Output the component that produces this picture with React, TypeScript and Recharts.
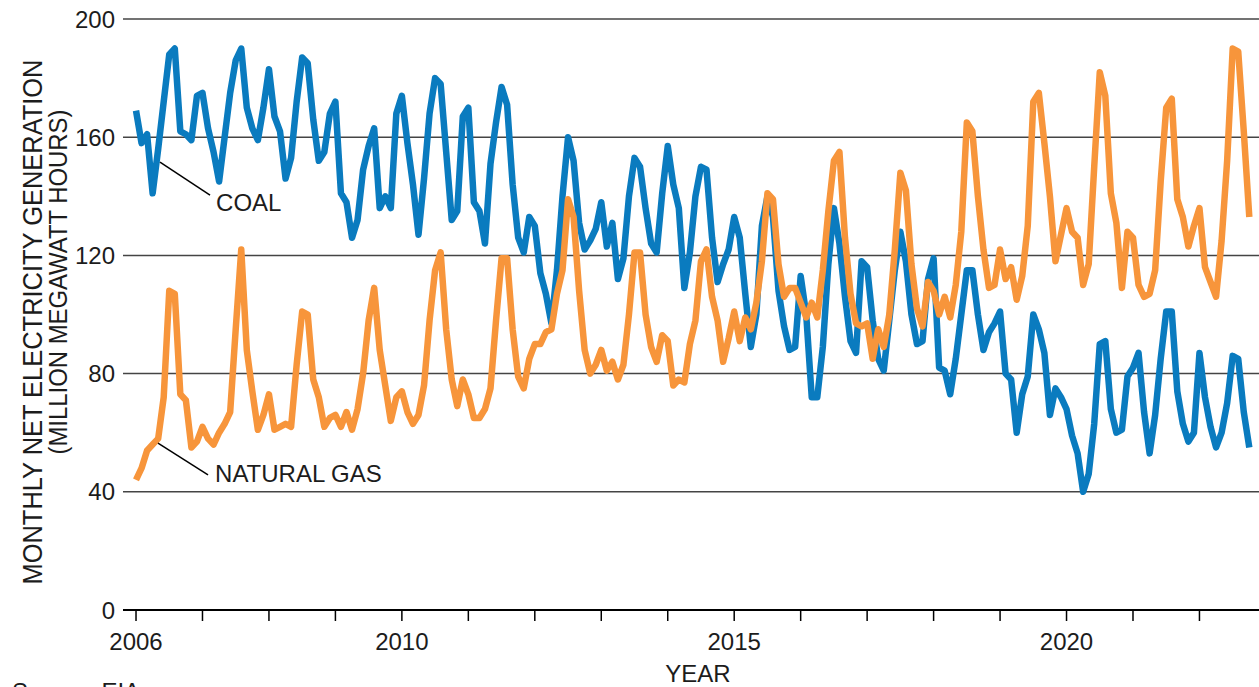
import { CartesianGrid, Line, LineChart, ReferenceDot, ReferenceLine, XAxis, YAxis } from "recharts";

const FONT = '"Liberation Sans", Arial, Helvetica, sans-serif';
const INK = "#1c1c1c";
const COAL_BLUE = "#0a7bbf";
const GAS_ORANGE = "#f7953b";

const firstYear = 2006;
const labelledYears = [2006, 2010, 2015, 2020];
const valueTicks = [0, 40, 80, 120, 160, 200];

// monthly net generation, million MWh, Jan 2006 .. Oct 2022
const coal = [
  169, 158, 161, 141, 156, 172, 188, 190, 162, 161, 159, 174, // 2006
  175, 163, 155, 145, 160, 175, 186, 190, 170, 163, 159, 170, // 2007
  183, 167, 162, 146, 153, 172, 187, 185, 166, 152, 155, 168, // 2008
  172, 141, 138, 126, 132, 149, 157, 163, 136, 140, 136, 168, // 2009
  174, 158, 144, 127, 146, 168, 180, 178, 155, 132, 135, 167, // 2010
  170, 138, 135, 124, 151, 165, 177, 171, 144, 126, 121, 133, // 2011
  130, 114, 107, 97, 115, 140, 160, 152, 131, 122, 125, 129, // 2012
  138, 123, 131, 112, 119, 140, 153, 150, 136, 124, 121, 141, // 2013
  157, 144, 136, 109, 121, 140, 150, 149, 126, 111, 117, 122, // 2014
  133, 126, 107, 89, 100, 130, 140, 133, 108, 96, 88, 89, // 2015
  113, 100, 72, 72, 89, 117, 136, 124, 106, 91, 87, 118, // 2016
  116, 98, 85, 81, 98, 115, 128, 118, 100, 90, 91, 112, // 2017
  119, 82, 81, 73, 85, 100, 115, 115, 100, 88, 94, 97, // 2018
  101, 80, 78, 60, 73, 79, 100, 95, 87, 66, 75, 72, // 2019
  68, 59, 53, 40, 46, 63, 90, 91, 68, 60, 61, 79, // 2020
  82, 87, 67, 53, 66, 85, 101, 101, 74, 63, 57, 60, // 2021
  87, 72, 62, 55, 60, 70, 86, 85, 67, 55, // 2022
];

const naturalGas = [
  44, 48, 54, 56, 58, 72, 108, 107, 73, 71, 55, 57, // 2006
  62, 58, 56, 60, 63, 67, 95, 122, 88, 74, 61, 66, // 2007
  73, 61, 62, 63, 62, 83, 101, 100, 78, 72, 62, 65, // 2008
  66, 62, 67, 61, 68, 80, 98, 109, 88, 76, 64, 72, // 2009
  74, 67, 63, 66, 76, 98, 115, 121, 95, 78, 69, 78, // 2010
  73, 65, 65, 68, 75, 98, 119, 119, 95, 79, 75, 85, // 2011
  90, 90, 94, 95, 107, 115, 139, 133, 108, 88, 80, 83, // 2012
  88, 81, 84, 78, 83, 100, 121, 121, 100, 89, 84, 93, // 2013
  91, 76, 78, 77, 90, 98, 118, 122, 106, 98, 84, 92, // 2014
  101, 91, 99, 95, 104, 118, 141, 139, 117, 106, 109, 109, // 2015
  104, 99, 104, 99, 115, 135, 152, 155, 126, 107, 97, 96, // 2016
  97, 85, 95, 89, 100, 122, 148, 142, 117, 102, 96, 111, // 2017
  108, 100, 106, 99, 110, 128, 165, 162, 140, 122, 109, 110, // 2018
  122, 112, 116, 105, 113, 130, 172, 175, 158, 140, 118, 127, // 2019
  136, 128, 126, 110, 117, 150, 182, 174, 141, 131, 109, 128, // 2020
  126, 110, 106, 107, 115, 145, 170, 173, 139, 133, 123, 130, // 2021
  136, 116, 111, 106, 125, 152, 190, 189, 162, 133, // 2022
];

// x is months since Jan 2006
const rows = coal.map((value, m) => ({ m, coal: value, gas: naturalGas[m] }));
const yearTicks = Array.from({ length: 17 }, (_, i) => i * 12);

const yearLabel = (m: number) => {
  const year = firstYear + Math.round(m / 12);
  return labelledYears.includes(year) ? String(year) : "";
};

const tickStyle = { fontSize: 24, fill: INK, fontFamily: FONT };

const callout = (text: string, size: number) => (p: any) => (
  <text x={p.cx} y={p.cy} fontSize={size} fontFamily={FONT} fill={INK}>
    {text}
  </text>
);

export default function App() {
  return (
    <div
      style={{
        position: "fixed",
        left: 0,
        top: 0,
        width: 1259,
        height: 687,
        overflow: "hidden",
        background: "#fff",
      }}
    >
      <LineChart width={1259} height={687} data={rows} margin={{ top: 19, right: 0, bottom: 0, left: 0 }}>
        <CartesianGrid vertical={false} stroke="#444" strokeWidth={1.5} />
        <XAxis
          dataKey="m"
          type="number"
          domain={[-2.35, 202.75]}
          ticks={yearTicks}
          interval={0}
          tickFormatter={yearLabel}
          height={77}
          tickSize={11}
          tickMargin={12}
          axisLine={{ stroke: "#000", strokeWidth: 2 }}
          tickLine={{ stroke: "#000", strokeWidth: 1.5 }}
          tick={tickStyle}
        />
        <YAxis
          domain={[0, 200]}
          ticks={valueTicks}
          width={123}
          axisLine={false}
          tickLine={false}
          tickSize={0}
          tickMargin={8}
          tick={tickStyle}
        />
        <Line
          type="linear"
          dataKey="coal"
          stroke={COAL_BLUE}
          strokeWidth={6.5}
          strokeLinejoin="round"
          dot={false}
          isAnimationActive={false}
        />
        <Line
          type="linear"
          dataKey="gas"
          stroke={GAS_ORANGE}
          strokeWidth={6.5}
          strokeLinejoin="round"
          dot={false}
          isAnimationActive={false}
        />
        <ReferenceLine
          segment={[
            { x: 4.33, y: 151.6 },
            { x: 13.36, y: 140.4 },
          ]}
          stroke="#000"
          strokeWidth={1.5}
        />
        <ReferenceDot x={14.45} y={135} r={1} shape={callout("COAL", 24)} />
        <ReferenceLine
          segment={[
            { x: 3.97, y: 56.5 },
            { x: 13.0, y: 45.7 },
          ]}
          stroke="#000"
          strokeWidth={1.5}
        />
        <ReferenceDot x={14.27} y={43.3} r={1} shape={callout("NATURAL GAS", 24)} />
      </LineChart>

      <svg
        width={1259}
        height={687}
        style={{ position: "absolute", left: 0, top: 0, pointerEvents: "none" }}
        fontFamily={FONT}
        fill={INK}
      >
        <text
          transform="translate(42,322) rotate(-90)"
          textAnchor="middle"
          fontSize={28}
          textLength={525}
          lengthAdjust="spacingAndGlyphs"
        >
          MONTHLY NET ELECTRICITY GENERATION
        </text>
        <text
          transform="translate(67,282) rotate(-90)"
          textAnchor="middle"
          fontSize={26}
          textLength={345}
          lengthAdjust="spacingAndGlyphs"
        >
          (MILLION MEGAWATT HOURS)
        </text>
        <text x={698} y={682} textAnchor="middle" fontSize={24}>
          YEAR
        </text>
        <text x={12} y={700} fontSize={24}>
          Source: EIA
        </text>
      </svg>
    </div>
  );
}
